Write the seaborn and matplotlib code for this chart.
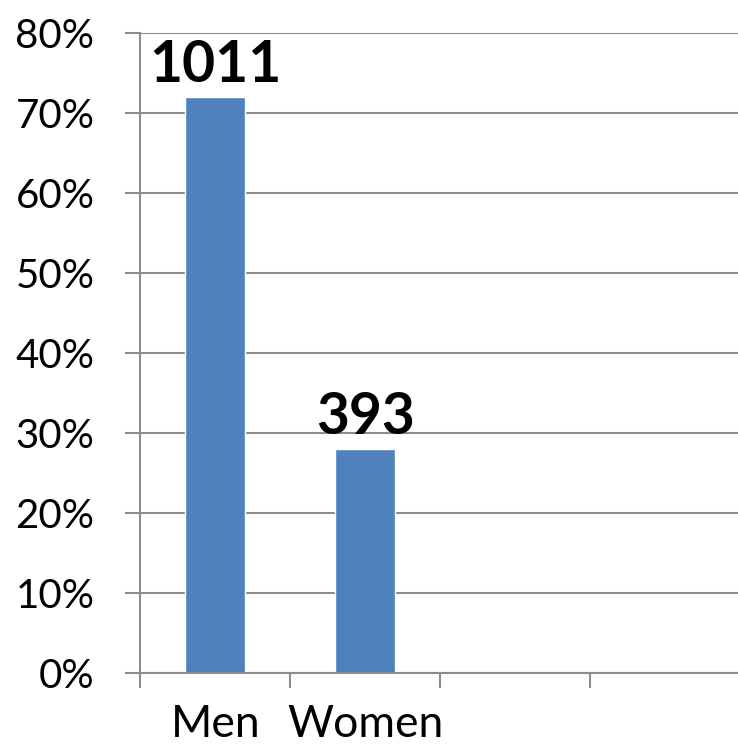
import matplotlib
matplotlib.use('Agg')
import matplotlib.pyplot as plt
import seaborn as sns
import pandas as pd
from matplotlib.ticker import FixedLocator, PercentFormatter

genders = ['Men', 'Women']
counts = [1011, 393]
shares = [72.0, 28.0]

df = pd.DataFrame({'gender': genders, 'share': shares, 'count': counts})

sns.set_theme(style='white')
plt.rcParams['font.family'] = ['Lato', 'DejaVu Sans']

fig = plt.figure(figsize=(7.38, 7.48), dpi=100)
ax = fig.add_axes([0.19, 0.1003, 0.813, 0.8556])

sns.barplot(data=df, x='gender', y='share', color='#4F81BD', width=0.4,
            saturation=1, ax=ax)

ax.set_xlim(-0.5, 3.5)
ax.set_ylim(0, 80)
ax.set_yticks(range(0, 81, 10))
ax.yaxis.set_major_formatter(PercentFormatter(decimals=0))
ax.yaxis.grid(True, color='#8c8c8c', linewidth=1.5)
ax.set_axisbelow(True)

ax.xaxis.set_minor_locator(FixedLocator([-0.5, 0.5, 1.5, 2.5, 3.5]))
ax.tick_params(axis='x', which='major', length=0, pad=22, labelsize=32,
               labelcolor='black')
ax.tick_params(axis='x', which='minor', bottom=True, length=11, width=1.5,
               color='#8c8c8c', direction='out')
ax.tick_params(axis='y', left=True, length=11, width=1.5, color='#8c8c8c',
               pad=22, labelsize=29, labelcolor='black')

for side in ['top', 'right']:
    ax.spines[side].set_visible(False)
for side in ['left', 'bottom']:
    ax.spines[side].set_color('#8c8c8c')
    ax.spines[side].set_linewidth(1.5)

for i, (s, c) in enumerate(zip(shares, counts)):
    ax.text(i, s + 0.6, str(c), ha='center', va='bottom', fontsize=41,
            fontweight='bold', color='black')

ax.set_xlabel('')
ax.set_ylabel('')

plt.savefig('out.png', dpi=100)
